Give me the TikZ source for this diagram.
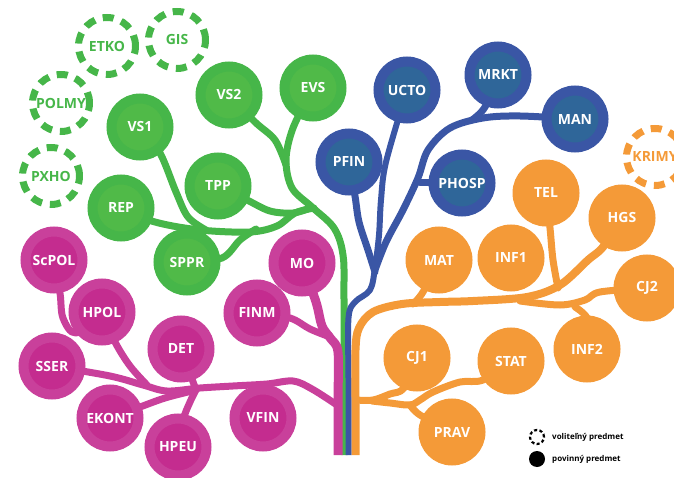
\documentclass[tikz,border=0pt]{standalone}
\usepackage{fontspec}
\setmainfont{Open Sans}
\usetikzlibrary{backgrounds}
\definecolor{gOut}{HTML}{46B649}
\definecolor{gIn}{HTML}{50BA48}
\definecolor{bOut}{HTML}{3A56A5}
\definecolor{bIn}{HTML}{2F6699}
\definecolor{mOut}{HTML}{C9409B}
\definecolor{mIn}{HTML}{C42C8F}
\definecolor{oOut}{HTML}{F49A38}
\newcommand\lbl{\fontsize{14}{16}\selectfont\bfseries}
\newcommand\lgd{\fontsize{8}{10}\selectfont\bfseries}
\begin{document}
\begin{tikzpicture}[x=1pt,y=-1pt,
 course/.style={circle,minimum size=57pt,inner sep=0pt,line width=10pt,text=white,font=\lbl},
 gc/.style={course,draw=gOut,fill=gIn},
 bc/.style={course,draw=bOut,fill=bIn},
 mc/.style={course,draw=mOut,fill=mIn},
 oc/.style={course,draw=oOut,fill=oOut},
 opt/.style={circle,minimum size=57pt,inner sep=0pt,line width=7pt,dash pattern=on 11pt off 8pt,font=\lbl},
 branch/.style={line width=7pt,line cap=round,line join=round},
 trunk/.style={line width=#1,line cap=butt,line join=round},
 gl/.style={branch,draw=gOut},
 bl/.style={branch,draw=bOut},
 ml/.style={branch,draw=mOut},
 ol/.style={branch,draw=oOut},
 lgdtext/.style={anchor=west,font=\lgd,inner sep=0pt}
]
\useasboundingbox (0,0) rectangle (674,478);
% green
\node[gc] (VS1) at (140,127) {VS1};
\node[gc] (VS2) at (229,95) {VS2};
\node[gc] (EVS) at (313,88) {EVS};
\node[gc] (TPP) at (218,186) {TPP};
\node[gc] (REP) at (121,208) {REP};
\node[gc] (SPPR) at (187,262) {SPPR};
\node[opt,draw=gOut,text=gOut] (ETKO) at (107,46) {ETKO};
\node[opt,draw=gOut,text=gOut] (GIS) at (177,40) {GIS};
\node[opt,draw=gOut,text=gOut] (POLMY) at (61,103) {POLMY};
\node[opt,draw=gOut,text=gOut] (PXHO) at (51,176) {PXHO};
% blue
\node[bc] (UCTO) at (407,90) {UCTO};
\node[bc] (MRKT) at (498,75) {MRKT};
\node[bc] (MAN) at (575,119) {MAN};
\node[bc] (PFIN) at (349,162) {PFIN};
\node[bc] (PHOSP) at (462,183) {PHOSP};
% magenta
\node[mc] (ScPOL) at (54,260) {ScPOL};
\node[mc] (HPOL) at (102,312) {HPOL};
\node[mc] (SSER) at (52,366) {SSER};
\node[mc] (DET) at (181,349) {DET};
\node[mc] (EKONT) at (110,418) {EKONT};
\node[mc] (HPEU) at (178,447) {HPEU};
\node[mc] (VFIN) at (263,418) {VFIN};
\node[mc] (FINM) at (257,313) {FINM};
\node[mc] (MO) at (302,263) {MO};
% orange
\node[oc] (TEL) at (546,193) {TEL};
\node[oc] (HGS) at (622,218) {HGS};
\node[oc] (MAT) at (439,260) {MAT};
\node[oc] (INF1) at (511,258) {INF1};
\node[oc] (CJ2) at (647,288) {CJ2};
\node[oc] (INF2) at (587,349) {INF2};
\node[oc] (CJ1) at (417,358) {CJ1};
\node[oc] (STAT) at (511,361) {STAT};
\node[oc] (PRAV) at (452,432) {PRAV};
\node[opt,draw=oOut,text=oOut] (KRIMY) at (655,157) {KRIMY};
% legend
\node[circle,minimum size=14pt,inner sep=0pt,draw=black,line width=2.2pt,dash pattern=on 3pt off 2.4pt] (lopt) at (537,437) {};
\node[circle,minimum size=16pt,inner sep=0pt,fill=black] (lreq) at (537,459) {};
\node[lgdtext] (lopttext) at (552,437) {voliteľný predmet};
\node[lgdtext] (lreqtext) at (552,459) {povinný predmet};

\begin{scope}[on background layer]
% green
\coordinate (gbot) at (344,455);
\draw[trunk=7pt,draw=gOut] plot[smooth,tension=0.55] coordinates {(gbot) (344,300) (343,255) (334,228) (312,207) (292,188) (286,160) (293,128) (EVS.center)};
\draw[gl] plot[smooth,tension=0.55] coordinates {(VS2.center) (255,122) (275,140) (286,165)};
\draw[gl] plot[smooth,tension=0.55] coordinates {(REP.center) (155,222) (200,230) (250,232) (277,226) (295,213) (314,208)};
\draw[gl] plot[smooth,tension=0.55] coordinates {(TPP.center) (247,200) (270,211) (293,213) (310,208)};
\draw[gl] plot[smooth,tension=0.55] coordinates {(VS1.center) (160,153) (176,192) (188,217) (206,230)};
\draw[gl] plot[smooth,tension=0.55] coordinates {(SPPR.center) (222,258) (240,240) (256,229)};
% magenta
\coordinate (mbot) at (338,455);
\draw[trunk=9pt,draw=mOut] plot[smooth,tension=0.55] coordinates {(mbot) (338,400) (338,352) (331,339) (322,326) (316,302) (MO.center)};
\draw[ml] plot[smooth,tension=0.55] coordinates {(FINM.center) (290,318) (310,329) (330,337)};
\draw[ml] plot[smooth,tension=0.55] coordinates {(337,405) (312,389) (293,381) (267,384) (233,386) (200,388) (167,391) (143,385) (110,376) (SSER.center)};
\draw[ml] plot[smooth,tension=0.55] coordinates {(EKONT.center) (140,407) (165,398) (192,391)};
\draw[ml] plot[smooth,tension=0.55] coordinates {(HPEU.center) (183,420) (190,402) (197,388)};
\draw[ml] (DET.center) -- (196,390);
\draw[ml] plot[smooth,tension=0.55] coordinates {(HPOL.center) (115,342) (130,366) (147,385)};
\draw[ml] plot[smooth,tension=0.55] coordinates {(ScPOL.center) (60,293) (63,318) (76,333) (HPOL.center)};
% blue
\coordinate (bbot) at (348.5,455);
\draw[trunk=6pt,draw=bOut] plot[smooth,tension=0.55] coordinates {(bbot) (348.5,380) (348.5,318) (355,302) (370,290) (375,268) (379,235) (381,200) (386,162) (UCTO.center)};
\draw[bl] plot[smooth,tension=0.55] coordinates {(PFIN.center) (355,196) (359,222) (368,250) (375,272)};
\draw[bl] plot[smooth,tension=0.55] coordinates {(MAN.center) (520,116) (483,118) (450,128) (428,150) (418,178) (403,210) (386,242) (375,270)};
\draw[bl] (PHOSP.center) -- (420,183);
\draw[bl] plot[smooth,tension=0.55] coordinates {(MRKT.center) (485,107) (472,120)};
% orange
\coordinate (obot) at (355.5,455);
\draw[trunk=8pt,draw=oOut] plot[smooth,tension=0.55] coordinates {(obot) (355.5,400) (355.5,350) (359,328) (373,312) (402,304) (440,302) (473,301) (527,297) (560,285) (588,260) (603,247) (HGS.center)};
\draw[ol] plot[smooth,tension=0.55] coordinates {(MAT.center) (423,292) (413,304)};
\draw[ol] plot[smooth,tension=0.55] coordinates {(TEL.center) (550,228) (553,260) (558,288)};
\draw[ol] plot[smooth,tension=0.55] coordinates {(520,301) (560,305) (585,300) (600,292) (CJ2.center)};
\draw[ol] plot[smooth,tension=0.55] coordinates {(INF2.center) (588,320) (575,307)};
\draw[ol] plot[smooth,tension=0.55] coordinates {(356,400) (373,400) (390,394) (404,388) (CJ1.center)};
\draw[ol] plot[smooth,tension=0.55] coordinates {(372,401) (390,403) (410,405) (420,400) (433,392) (460,382) (483,380) (STAT.center)};
\draw[ol] plot[smooth,tension=0.55] coordinates {(PRAV.center) (420,415) (410,405)};
\end{scope}
\end{tikzpicture}
\end{document}
